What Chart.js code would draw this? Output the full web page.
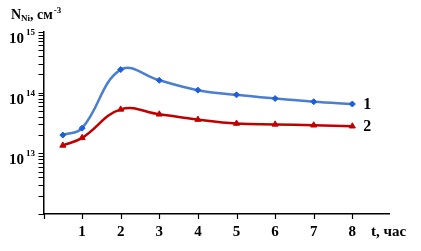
<!DOCTYPE html>
<html>
<head>
<meta charset="utf-8">
<script src="https://cdn.jsdelivr.net/npm/chart.js@4.4.1/dist/chart.umd.min.js"></script>
<style>
  html, body { margin: 0; padding: 0; background: #fff; }
  #chart { display: block; }
</style>
</head>
<body>
<canvas id="chart" width="421" height="251"></canvas>
<script>
// --- data ---
const hours = [0.5, 1, 2, 3, 4, 5, 6, 7, 8];
const series1 = [2.0e13, 2.6e13, 2.4e14, 1.6e14, 1.1e14, 9.2e13, 8.0e13, 7.1e13, 6.5e13];
const series2 = [1.35e13, 1.8e13, 5.3e13, 4.4e13, 3.6e13, 3.1e13, 3.0e13, 2.9e13, 2.8e13];
const seriesNames = ['1', '2'];
const xTicks = [0, 1, 2, 3, 4, 5, 6, 7, 8];
const xLabels = [1, 2, 3, 4, 5, 6, 7, 8];
const yDecades = [12, 13, 14];
const yLabelDecades = [13, 14, 15];

const SERIF = '"Liberation Serif", "DejaVu Serif", serif';

// major + minor ticks for the log axis
const yTicks = [];
yDecades.forEach(d => {
    for (let m = 1; m <= 9; m++) yTicks.push(m * Math.pow(10, d));
});
yTicks.push(1e15);

const toPoints = (vals) => hours.map((t, i) => ({ x: t, y: vals[i] }));

// --- tick marks + text drawn over the chart ---
const labelsPlugin = {
    id: 'labels',
    afterDraw(chart) {
        const ctx = chart.ctx;
        const xs = chart.scales.x;
        const ys = chart.scales.y;
        const area = chart.chartArea;
        ctx.save();

        // y tick marks
        ctx.strokeStyle = '#000';
        ctx.lineWidth = 1.2;
        ctx.beginPath();
        yTicks.forEach(v => {
            const py = Math.round(ys.getPixelForValue(v)) + 0.5;
            ctx.moveTo(area.left - 5, py);
            ctx.lineTo(area.left, py);
        });
        ctx.stroke();

        // x tick marks
        ctx.beginPath();
        xTicks.forEach(v => {
            const px = Math.round(xs.getPixelForValue(v)) + 0.5;
            ctx.moveTo(px, area.bottom);
            ctx.lineTo(px, area.bottom + 5);
        });
        ctx.stroke();

        ctx.fillStyle = '#000';

        // y tick labels: 10^n
        yLabelDecades.forEach(d => {
            const py = ys.getPixelForValue(Math.pow(10, d));
            ctx.font = 'bold 15px ' + SERIF;
            ctx.textAlign = 'left';
            ctx.textBaseline = 'alphabetic';
            ctx.fillText('10', 9, py + 11);
            ctx.font = 'bold 9px ' + SERIF;
            ctx.fillText(String(d), 26, py + 3);
        });

        // x tick labels
        ctx.font = 'bold 15px ' + SERIF;
        ctx.textAlign = 'center';
        ctx.textBaseline = 'middle';
        xLabels.forEach(v => {
            ctx.fillText(String(v), xs.getPixelForValue(v), 232);
        });

        // x axis title
        ctx.textAlign = 'left';
        ctx.fillText('t, час', 371, 232);

        // y axis title: N_Ni, см^-3
        ctx.textBaseline = 'alphabetic';
        let x = 11;
        ctx.font = 'bold 14px ' + SERIF;
        ctx.fillText('N', x, 19);
        x += ctx.measureText('N').width;
        ctx.font = 'bold 9px ' + SERIF;
        ctx.fillText('Ni', x, 21);
        x += ctx.measureText('Ni').width;
        ctx.font = 'bold 14px ' + SERIF;
        ctx.fillText(', см', x, 19);
        x += ctx.measureText(', см').width;
        ctx.font = 'bold 9px ' + SERIF;
        ctx.fillText('-3', x + 1, 13);

        // series numbers at the line ends
        ctx.font = 'bold 16px ' + SERIF;
        ctx.textBaseline = 'middle';
        const endX = xs.getPixelForValue(hours[hours.length - 1]) + 11;
        ctx.fillText(seriesNames[0], endX, ys.getPixelForValue(series1[series1.length - 1]) + 1);
        ctx.fillText(seriesNames[1], endX, ys.getPixelForValue(series2[series2.length - 1]) + 1);

        ctx.restore();
    }
};

new Chart(document.getElementById('chart'), {
    type: 'line',
    data: {
        datasets: [
            {
                label: seriesNames[0],
                data: toPoints(series1),
                borderColor: '#4a7ed0',
                borderWidth: 2.5,
                pointStyle: 'rectRot',
                pointRadius: 3,
                pointBackgroundColor: '#1d5fd8',
                pointBorderColor: '#1d5fd8',
                pointBorderWidth: 1,
                tension: 0.4,
                fill: false
            },
            {
                label: seriesNames[1],
                data: toPoints(series2),
                borderColor: '#c00000',
                borderWidth: 2.5,
                pointStyle: 'triangle',
                pointRadius: 3.5,
                pointBackgroundColor: '#c00000',
                pointBorderColor: '#c00000',
                pointBorderWidth: 1,
                tension: 0.4,
                fill: false
            }
        ]
    },
    options: {
        responsive: false,
        animation: false,
        devicePixelRatio: 1,
        layout: { padding: { top: 32, right: 32, left: 0, bottom: 0 } },
        plugins: { legend: { display: false }, tooltip: { enabled: false } },
        scales: {
            x: {
                type: 'linear',
                min: 0,
                max: 8.95,
                afterBuildTicks: s => { s.ticks = xTicks.map(v => ({ value: v })); },
                afterFit: s => { s.height = 37; },
                grid: { display: false },
                border: { display: true, color: '#000', width: 1.5 },
                ticks: { callback: () => '', padding: 0, autoSkip: false, maxRotation: 0 }
            },
            y: {
                type: 'logarithmic',
                min: 1e12,
                max: 1e15,
                afterBuildTicks: s => { s.ticks = yTicks.map(v => ({ value: v })); },
                afterFit: s => { s.width = 43.5; },
                grid: { display: false },
                border: { display: true, color: '#000', width: 1.5 },
                ticks: { callback: () => '', padding: 0, autoSkip: false }
            }
        }
    },
    plugins: [labelsPlugin]
});
</script>
</body>
</html>
